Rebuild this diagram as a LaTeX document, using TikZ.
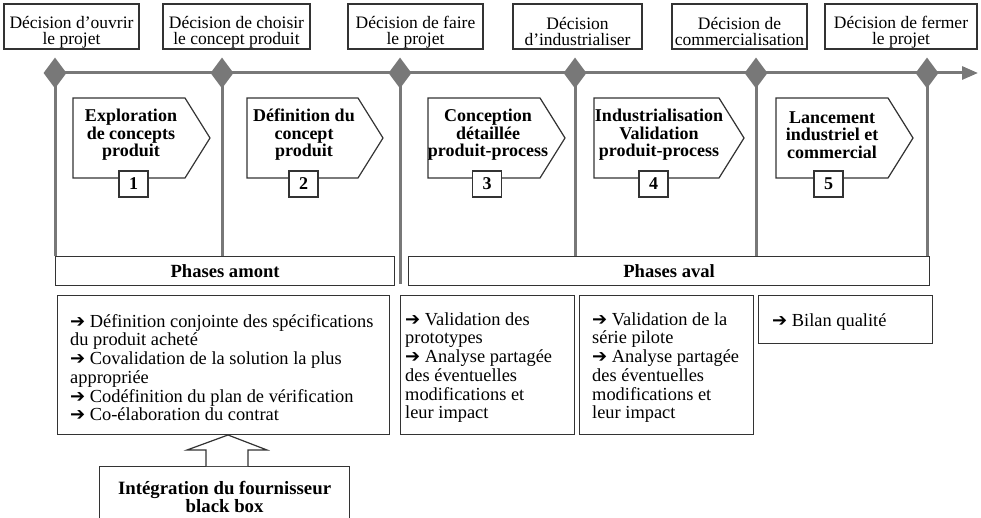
\documentclass[tikz,border=0pt]{standalone}
\usepackage{fontspec}
\setmainfont{Liberation Serif}
\newfontfamily\symfont{DejaVu Sans}
\usetikzlibrary{shapes.geometric,arrows.meta}
\newcommand{\fl}{{\symfont\fontsize{18}{18}\selectfont\char"2794}}
\newcommand{\hautdec}{\rule{0pt}{23pt}}
\definecolor{axegris}{HTML}{787878}
\definecolor{trait}{HTML}{333333}
\tikzset{
	decision/.style={draw=trait,line width=1.2pt,fill=white,inner sep=0pt,align=center,
		minimum height=45pt,font=\fontsize{17.5}{16}\selectfont},
	jalon/.style={diamond,fill=axegris,inner sep=0pt,minimum width=23pt,minimum height=31pt},
	axe/.style={draw=axegris,line width=3pt},
	barre/.style={draw=trait,line width=1.2pt,fill=white,minimum height=29pt,
		font=\bfseries\fontsize{18.6}{18}\selectfont},
	pentagone/.style={draw=trait,line width=1.2pt,fill=white},
	titre/.style={align=center,inner sep=0pt,font=\bfseries\fontsize{18}{17.5}\selectfont},
	numero/.style={draw=trait,line width=1.2pt,fill=white,minimum width=29pt,minimum height=26pt,
		inner sep=0pt,font=\bfseries\fontsize{18}{18}\selectfont},
	cadre/.style={draw=trait,line width=1.2pt,anchor=north west,inner sep=0pt},
	liste/.style={anchor=west,align=left,inner sep=0pt,font=\fontsize{18.4}{18.7}\selectfont},
	bloc/.style={draw=trait,line width=1.2pt,fill=white}
}
\begin{document}
\begin{tikzpicture}[x=1pt,y=-1pt]
	\useasboundingbox (0,0) rectangle (981,518);
	\node[decision,minimum width=135pt] (dec1) at (71.5,26.5) {\hautdec Décision d’ouvrir\\le projet};
	\node[decision,minimum width=147pt] (dec2) at (236.5,26.5) {\hautdec Décision de choisir\\le concept produit};
	\node[decision,minimum width=135pt] (dec3) at (415.5,26.5) {\hautdec Décision de faire\\le projet};
	\node[decision,minimum width=129pt] (dec4) at (577.5,26.5) {\hautdec Décision\\d’industrialiser};
	\node[decision,minimum width=135pt] (dec5) at (739.5,26.5) {\hautdec Décision de\\commercialisation};
	\node[decision,minimum width=152pt] (dec6) at (901,26.5) {\hautdec Décision de fermer\\le projet};

	\node[jalon] (j1) at (55,73) {};
	\node[jalon] (j2) at (222,73) {};
	\node[jalon] (j3) at (400,73) {};
	\node[jalon] (j4) at (575,73) {};
	\node[jalon] (j5) at (756,73) {};
	\node[jalon] (j6) at (927,73) {};
	\coordinate (fin) at (978,73);
	\draw[axe,-{Triangle[length=16pt,width=13pt]}] (j1.center) -- (fin);

	\node[barre,minimum width=339pt,anchor=north west] (amont) at (55,256) {Phases amont};
	\node[barre,minimum width=521pt,anchor=north west] (aval) at (408,256) {Phases aval};
	\draw[axe] (j1.center) -- (j1 |- amont.north);
	\draw[axe] (j2.center) -- (j2 |- amont.north);
	\draw[axe] (j3.center) -- ([yshift=2pt]j3 |- amont.south);
	\draw[axe] (j4.center) -- (j4 |- aval.north);
	\draw[axe] (j5.center) -- (j5 |- aval.north);
	\draw[axe] (j6.center) -- (j6 |- aval.north);

	\draw[pentagone] (73,98) -- (185,98) -- (210,138) -- (185,178) -- (73,178) -- cycle;
	\draw[pentagone] (247,98) -- (358,98) -- (383,138) -- (358,178) -- (247,178) -- cycle;
	\draw[pentagone] (428,98) -- (540,98) -- (565,138) -- (540,178) -- (428,178) -- cycle;
	\draw[pentagone] (594,98) -- (719,98) -- (744,138) -- (719,178) -- (594,178) -- cycle;
	\draw[pentagone] (776,98) -- (888,98) -- (913,138) -- (888,178) -- (776,178) -- cycle;
	\node[titre] (ph1) at (131,135) {Exploration\\de concepts\\produit};
	\node[titre] (ph2) at (304,135) {Définition du\\concept\\produit};
	\node[titre] (ph3) at (488,135) {Conception\\détaillée\\produit-process};
	\node[titre] (ph4) at (659,135) {Industrialisation\\Validation\\produit-process};
	\node[titre] (ph5) at (832,135) {Lancement\\industriel et\\commercial};
	\node[numero] (n1) at (133.5,184) {1};
	\node[numero] (n2) at (303.5,184) {2};
	\node[numero] (n3) at (487,184) {3};
	\node[numero] (n4) at (653.5,184) {4};
	\node[numero] (n5) at (828.5,184) {5};

	\node[cadre,minimum width=332pt,minimum height=139pt] (ba) at (57,295) {};
	\node[cadre,minimum width=174pt,minimum height=139pt] (bb) at (400,295) {};
	\node[cadre,minimum width=174pt,minimum height=139pt] (bc) at (579,295) {};
	\node[cadre,minimum width=174pt,minimum height=48pt] (bd) at (758,295) {};
	\node[liste] (la) at ([xshift=13pt,yshift=-2.5pt]ba.west) {\fl{} Définition conjointe des spécifications\\du produit acheté\\\fl{} Covalidation de la solution la plus\\appropriée\\\fl{} Codéfinition du plan de vérification\\\fl{} Co-élaboration du contrat};
	\node[liste] (lb) at ([xshift=5pt,yshift=-2.5pt]bb.west) {\fl{} Validation des\\prototypes\\\fl{} Analyse partagée\\des éventuelles\\modifications et\\leur impact};
	\node[liste] (lc) at ([xshift=13pt,yshift=-2.5pt]bc.west) {\fl{} Validation de la\\série pilote\\\fl{} Analyse partagée\\des éventuelles\\modifications et\\leur impact};
	\node[liste] (ld) at ([xshift=14pt,yshift=-2pt]bd.west) {\fl{} Bilan qualité};

	\node[cadre,minimum width=250pt,minimum height=60pt,align=center,
		font=\bfseries\fontsize{18.8}{16}\selectfont] (four) at (99,466) {Intégration du fournisseur\\black box};
	\coordinate (pointe) at (228,435);
	\draw[bloc] (206,466) -- (206,450) -- (187,450) -- (pointe) -- (267,450) -- (248,450) -- (248,466);
\end{tikzpicture}
\end{document}
